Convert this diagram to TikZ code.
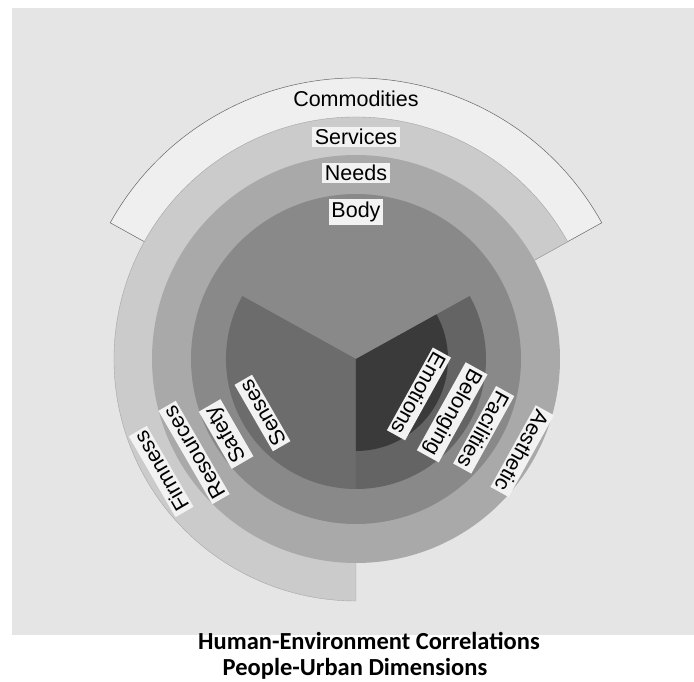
\documentclass[tikz,border=0pt]{standalone}
\usepackage{fontspec}
\newfontfamily\ringfont{Liberation Sans}
\newfontfamily\capfont{Carlito}
\definecolor{bgcol}{HTML}{E5E5E5}
\definecolor{commcol}{HTML}{EFEFEF}
\definecolor{servcol}{HTML}{CBCBCB}
\definecolor{needcol}{HTML}{A9A9A9}
\definecolor{bodycol}{HTML}{898989}
\definecolor{sensecol}{HTML}{6C6C6C}
\definecolor{belongcol}{HTML}{646464}
\definecolor{emotcol}{HTML}{3A3A3A}
\definecolor{tagcol}{HTML}{F2F2F2}
\tikzset{
  tag/.style={fill=tagcol, inner sep=2.5pt, font=\ringfont\fontsize{21.5}{24}\selectfont},
  plaintag/.style={tag, fill=none},
  caption/.style={font=\capfont\bfseries\fontsize{24.5}{28}\selectfont}}

\begin{document}
\begin{tikzpicture}[x=1pt, y=1pt]
\useasboundingbox (-356,-322) rectangle (338,359);
\fill[white] (-356,-322) rectangle (338,359);
\fill[bgcol] (-344,-276) rectangle (338,351);
% layers, outermost first
\filldraw[fill=commcol, draw=gray!80!black, line width=0.5pt] (0,0) -- (29:281) arc[start angle=29, end angle=151, radius=281] -- cycle;
\filldraw[fill=servcol, draw=gray!70, line width=0.4pt] (0,0) -- (29:242) arc[start angle=29, end angle=270, radius=242] -- cycle;
\fill[needcol] (0,0) circle[radius=204];
\fill[bodycol] (0,0) circle[radius=165];
% inner pie
\fill[sensecol] (0,0) -- (151:130) arc[start angle=151, end angle=270, radius=130] -- cycle;
\fill[belongcol] (0,0) -- (-90:130) arc[start angle=-90, end angle=29, radius=130] -- cycle;
\fill[emotcol] (0,0) -- (-90:92) arc[start angle=-90, end angle=29, radius=92] -- cycle;
% ring titles
\node[plaintag] (commodities) at (90:260) {Commodities};
\node[tag] (services) at (90:222) {Services};
\node[tag] (needs) at (90:186) {Needs};
\node[tag] (body) at (90:147) {Body};
% lower left
\node[tag, rotate=120] (senses) at (210:108) {Senses};
\node[tag, rotate=120] (safety) at (210:150) {Safety};
\node[tag, rotate=120] (resources) at (210:187) {Resources};
\node[tag, rotate=120] (firmness) at (210:225) {Firmness};
% lower right
\node[tag, rotate=-119] (emotions) at (-29:72) {Emotions};
\node[tag, rotate=-119] (belonging) at (-29:110) {Belonging};
\node[tag, rotate=-119] (facilities) at (-29:146) {Facilities};
\node[tag, rotate=-119] (aesthetic) at (-29:190) {Aesthetic};
% caption
\node[caption] (title) at (13,-282) {Human-Environment Correlations};
\node[caption] (subtitle) at (-1,-310) {People-Urban Dimensions};
\end{tikzpicture}
\end{document}
